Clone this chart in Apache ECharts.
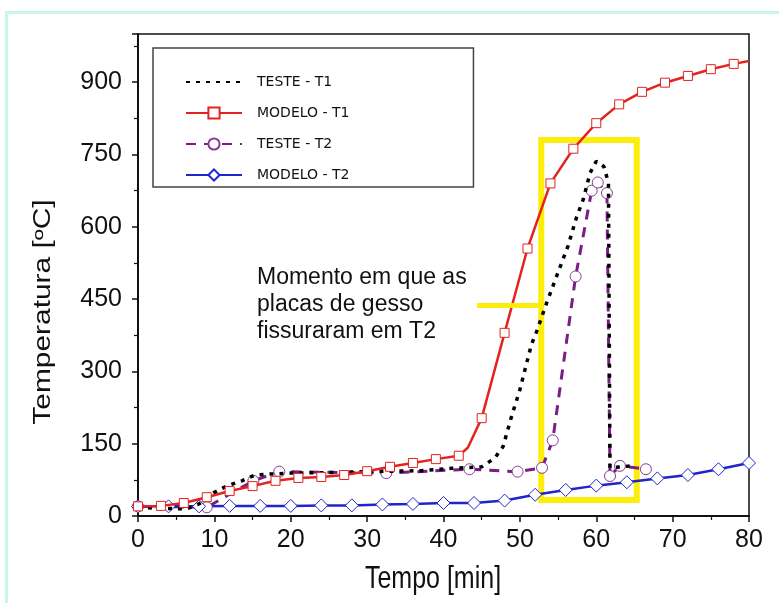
<!DOCTYPE html>
<html>
<head>
<meta charset="utf-8">
<script src="https://cdn.jsdelivr.net/npm/echarts@6/dist/echarts.min.js"></script>
<style>
  body { margin: 0; background: #fff; }
  .moldura { position: absolute; left: 5px; top: 11px; width: 800px; height: 620px; border: 3px solid #c8f6e7; }
  #grafico { position: absolute; left: 0; top: 0; width: 779px; height: 603px; }
</style>
</head>
<body>
<div class="moldura"></div>
<div id="grafico"></div>
<script>
// TESTE - T1 (pontilhado preto, sem marcadores)
const tempoTesteT1 = [0, 2.4, 6.4, 8, 9.9, 11.6, 13.6, 15.3, 17.3, 20, 25, 30, 37, 41, 45, 46.7, 47.8, 48.9, 50, 51.5, 52.2, 53.5, 54.8, 56.3, 57.4, 58.3, 59.2, 60, 61, 61.6, 61.8, 64.6]
const testeT1 = [18, 16, 15, 25, 48, 62, 73, 85, 87, 89, 90, 92, 94, 99, 102, 120, 144, 206, 262, 355, 383, 442, 497, 560, 619, 657, 712, 736, 725, 691, 100, 104]

// MODELO - T1 (vermelho, quadrados a cada 3 min)
const tempoModeloT1 = [0, 3, 6, 9, 12, 15, 18, 21, 24, 27, 30, 33, 36, 39, 42, 43.2, 45, 48, 51, 54, 57, 60, 63, 66, 69, 72, 75, 78, 80]
const modeloT1 = [20, 21, 27, 39, 52, 62, 73, 79, 81, 85, 93, 102, 110, 118, 125, 142, 203, 380, 555, 690, 762, 815, 854, 880, 899, 913, 927, 938, 944]

// TESTE - T2 (roxo tracejado, circulos)
const tempoTesteT2 = [0, 9, 15.1, 18.5, 32.5, 43.4, 49.7, 52.9, 54.3, 57.3, 59.4, 60.2, 61.4, 61.8, 63.1, 66.5]
const testeT2 = [20, 18, 73, 92, 89, 97, 92, 100, 157, 497, 675, 692, 670, 83, 104, 97]

// MODELO - T2 (azul, losangos)
const tempoModeloT2 = [0, 4, 8, 12, 16, 20, 24, 28, 32, 36, 40, 44, 48, 52, 56, 60, 64, 68, 72, 76, 80]
const modeloT2 = [20, 20, 20, 21, 21, 21, 22, 22, 24, 25, 27, 27, 32, 44, 54, 63, 70, 78, 85, 97, 110]

const nomesSeries = ['TESTE - T1', 'MODELO - T1', 'TESTE - T2', 'MODELO - T2']
const ticksX = [0, 10, 20, 30, 40, 50, 60, 70, 80]
const ticksY = [0, 150, 300, 450, 600, 750, 900]

// retangulo amarelo e seta (coordenadas de dados)
const destaqueX = [52.8, 65.3]
const destaqueY = [33, 780]
const setaX = [44.4, 52.8]
const setaY = 438

const fonte = 'Liberation Sans, Arial, sans-serif'

function pares(xs, ys) {
  return xs.map((x, i) => [x, ys[i]])
}

const chart = echarts.init(document.getElementById('grafico'))
chart.setOption({
  animation: false,
  grid: { left: 138, right: 30, top: 34, bottom: 87, show: true, borderColor: '#111', borderWidth: 1.5, outerBoundsMode: 'none' },
  legend: {
    data: [
      { name: 'TESTE - T1', itemStyle: { opacity: 0 } },
      'MODELO - T1', 'TESTE - T2', 'MODELO - T2'
    ],
    orient: 'vertical',
    left: 153,
    top: 48,
    padding: [27, 124, 5, 32],
    itemWidth: 56,
    itemHeight: 14,
    itemGap: 17,
    borderColor: '#444',
    borderWidth: 1.5,
    textStyle: { fontFamily: 'DejaVu Sans', fontSize: 14, color: '#111', padding: [0, 0, 0, 10] }
  },
  xAxis: {
    type: 'value',
    min: 0,
    max: 80,
    interval: 10,
    axisLine: { lineStyle: { color: '#111', width: 2 } },
    axisTick: { length: 6, lineStyle: { color: '#111', width: 1.5 } },
    minorTick: { show: true, splitNumber: 2, length: 4, lineStyle: { color: '#111', width: 1.2 } },
    splitLine: { show: false },
    axisLabel: {
      fontFamily: fonte, fontSize: 25, color: '#111', margin: 12,
      formatter: v => ticksX.includes(v) ? String(v) : ''
    }
  },
  yAxis: {
    type: 'value',
    min: 0,
    max: 1000,
    interval: 150,
    axisLine: { show: true, lineStyle: { color: '#111', width: 2 } },
    axisTick: { show: true, length: 6, lineStyle: { color: '#111', width: 1.5 } },
    minorTick: { show: true, splitNumber: 2, length: 4, lineStyle: { color: '#111', width: 1.2 } },
    splitLine: { show: false },
    axisLabel: {
      fontFamily: fonte, fontSize: 25, color: '#111', margin: 16, showMaxLabel: false,
      formatter: v => ticksY.includes(v) ? String(v) : ''
    }
  },
  graphic: [
    {
      type: 'text',
      left: 257,
      top: 264,
      style: {
        text: 'Momento em que as\nplacas de gesso\nfissuraram em T2',
        font: '23px ' + fonte,
        lineHeight: 27,
        fill: '#111'
      }
    },
    {
      // titulo do eixo x
      type: 'text',
      x: 433,
      y: 579,
      scaleY: 1.25,
      style: { text: 'Tempo [min]', font: '25px ' + fonte, fill: '#111', align: 'center', verticalAlign: 'middle' }
    },
    {
      // titulo do eixo y
      type: 'text',
      x: 44,
      y: 312,
      rotation: Math.PI / 2,
      scaleX: 1.3,
      style: { text: 'Temperatura [ºC]', font: '23px ' + fonte, fill: '#111', align: 'center', verticalAlign: 'middle' }
    }
  ],
  series: [
    {
      name: 'TESTE - T1',
      type: 'line',
      data: pares(tempoTesteT1, testeT1),
      symbol: 'none',
      color: '#000',
      lineStyle: { color: '#000', width: 3.5, type: [4, 6] },
      z: 3
    },
    {
      name: 'MODELO - T1',
      type: 'line',
      data: pares(tempoModeloT1, modeloT1).map(p => (p[0] % 3 === 0 ? p : { value: p, symbol: 'none' })),
      symbol: 'rect',
      symbolSize: 9,
      color: '#e3231f',
      itemStyle: { color: '#fff', borderColor: '#e3231f', borderWidth: 1 },
      lineStyle: { color: '#e3231f', width: 2.5 },
      z: 4
    },
    {
      name: 'TESTE - T2',
      type: 'line',
      data: pares(tempoTesteT2, testeT2),
      symbol: 'circle',
      symbolSize: 11,
      color: '#7a1d84',
      itemStyle: { color: '#fff', borderColor: '#8a3a96', borderWidth: 1 },
      lineStyle: { color: '#7a1d84', width: 3, type: [10, 8] },
      z: 2
    },
    {
      name: 'MODELO - T2',
      type: 'line',
      data: pares(tempoModeloT2, modeloT2),
      symbol: 'diamond',
      symbolSize: 13,
      color: '#1f25c8',
      itemStyle: { color: '#fff', borderColor: '#1f25c8', borderWidth: 1 },
      lineStyle: { color: '#1f25c8', width: 2.5 },
      z: 2
    },
    {
      name: 'destaque',
      type: 'line',
      data: [],
      z: 10,
      silent: true,
      markArea: {
        silent: true,
        itemStyle: { color: 'rgba(0,0,0,0)', borderColor: '#fcee0a', borderWidth: 6 },
        data: [[{ coord: [destaqueX[0], destaqueY[1]] }, { coord: [destaqueX[1], destaqueY[0]] }]]
      },
      markLine: {
        silent: true,
        symbol: 'none',
        label: { show: false },
        lineStyle: { color: '#fcee0a', width: 5, type: 'solid' },
        data: [[{ coord: [setaX[0], setaY] }, { coord: [setaX[1], setaY] }]]
      }
    }
  ]
})
</script>
</body>
</html>
